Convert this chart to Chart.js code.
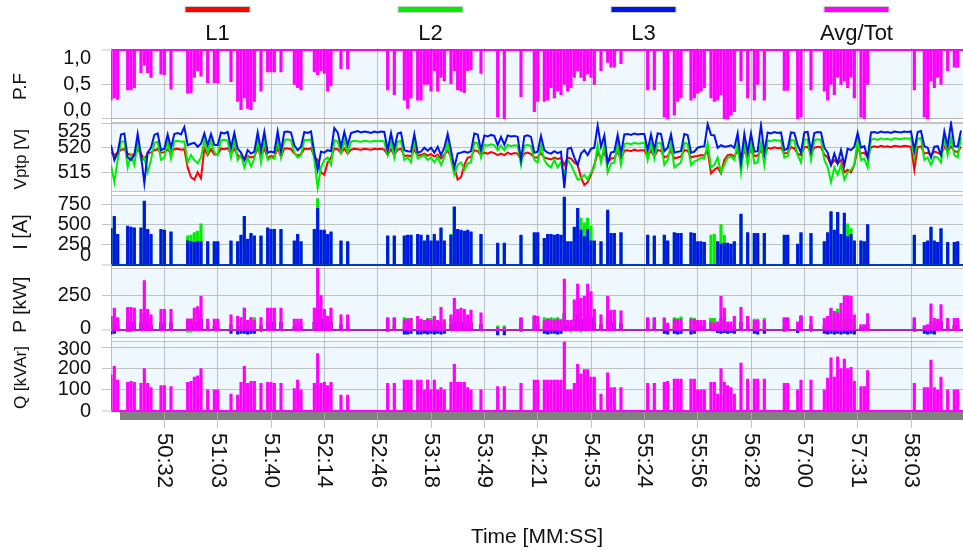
<!DOCTYPE html>
<html><head><meta charset="utf-8">
<script src="https://cdn.jsdelivr.net/npm/chart.js@4"></script>
<style>html,body{margin:0;padding:0;background:#fff;}canvas{display:block;}</style>
</head><body>
<canvas id="c" width="963" height="550"></canvas>
<script>
// ---------- tick labels / names ----------
const X_TICK_POS = [16,32,48,64,80,96,112,128,144,160,176,192,208,224,240];
const X_TICK_LABELS = ['50:32','51:03','51:40','52:14','52:46','53:18','53:49','54:21','54:53','55:24','55:56','56:28','57:00','57:31','58:03'];
const SERIES_NAMES = ['L1','L2','L3','Avg/Tot'];
const PF_TICKS = [0,0.5,1.0];   const PF_TICK_LABELS = ['0,0','0,5','1,0'];
const V_TICKS = [515,520,525];  const V_TICK_LABELS = ['515','520','525'];
const I_TICKS = [0,250,500,750]; const I_TICK_LABELS = ['0','250','500','750'];
const P_TICKS = [0,250];        const P_TICK_LABELS = ['0','250'];
const Q_TICKS = [0,100,200,300]; const Q_TICK_LABELS = ['0','100','200','300'];

// ---------- series values (one value per sample) ----------
const PF_AVG = [
.27,.3,.28,1,1,.42,.42,.45,1,.67,.78,.67,.6,1,1,.65,
.64,1,.43,1,1,1,1,.37,.38,.6,.7,.62,1,.52,1,.52,
.52,1,1,1,.54,1,.25,.13,.3,.15,.13,.25,1,.4,1,.68,
.68,.68,1,.68,1,1,1,.5,.45,.42,1,1,1,.68,.64,.7,
.66,.4,.48,1,1,.73,1,.73,1,1,1,1,1,1,1,1,
1,1,1,.42,1,.35,1,1,.27,.15,.3,1,.27,.27,.5,.5,
.4,.7,.4,.6,.55,1,.51,.7,.42,.4,.38,.7,.71,1,1,.66,
1,1,1,1,.02,1,0,1,1,1,1,.32,1,1,1,.1,
.25,1,.25,.27,.45,.3,.4,.35,.5,.4,.45,.6,.7,.6,.55,.65,
.6,.5,1,.7,1,.82,.75,.75,1,.8,1,1,1,1,1,1,
1,.42,1,.42,1,1,.02,0,1,.05,.25,.3,1,1,.27,.3,
.37,.4,.45,1,.3,.25,.27,.35,0,0,.05,.1,1,.55,1,.3,
1,.27,.5,1,.27,1,1,1,1,1,.41,.41,1,1,0,.02,
1,1,.42,1,1,1,.4,.27,.5,.35,.6,.5,.55,.45,.6,.3,
1,.02,0,.5,1,1,1,1,1,1,1,1,1,1,1,1,
1,.42,1,1,.02,0,.55,.45,.6,.5,1,.7,1,.75,.75,1];

const V_L1 = [
519.0,518.5,519.0,519.6,519.7,518.8,518.5,518.7,519.6,518.8,517.5,518.9,519.0,519.5,519.7,519.0,
519.1,519.6,519.0,519.7,519.8,519.6,519.7,516.0,514.0,513.5,515.0,513.8,519.8,518.5,519.7,518.6,
518.6,519.8,519.7,519.9,518.8,519.8,518.5,518.0,517.5,518.3,518.0,518.2,519.9,518.2,519.8,518.0,
518.3,518.1,519.9,518.2,519.8,519.9,519.7,518.8,518.4,518.7,519.8,519.7,519.9,518.2,517.5,515.0,
514.5,517.0,518.0,519.8,519.7,518.9,519.8,518.8,519.6,519.8,519.7,519.6,519.8,519.7,519.6,519.8,
519.7,519.8,519.6,518.6,519.7,518.5,519.6,519.8,518.3,518.4,518.2,519.6,518.4,518.5,518.8,518.4,
518.7,518.2,518.6,517.8,518.6,519.4,518.2,516.0,513.5,514.0,516.5,518.0,518.1,519.5,519.3,518.5,
519.0,518.8,519.1,518.9,518.5,518.8,518.5,519.0,518.7,518.9,518.8,517.5,518.8,519.0,518.7,518.0,
518.0,518.9,518.0,517.8,517.6,518.0,517.7,517.9,516.5,518.0,517.8,517.0,516.5,514.0,512.4,513.0,
514.5,516.5,519.0,517.8,519.1,517.0,517.8,517.9,519.2,517.6,519.4,519.5,519.3,519.6,519.4,519.5,
519.5,518.2,519.4,518.2,519.5,519.4,518.0,518.3,519.4,517.8,518.0,518.2,519.5,519.4,518.0,518.2,
518.3,518.5,518.4,519.4,514.8,515.5,516.0,514.8,517.5,518.5,518.6,518.2,519.5,517.0,519.5,518.2,
519.6,518.3,518.4,519.5,518.2,520.0,519.8,520.1,519.9,520.0,518.8,519.0,520.1,519.9,518.8,518.5,
520.1,520.2,518.8,520.0,520.2,520.1,518.6,518.0,516.5,517.5,516.8,517.5,515.0,515.5,515.0,516.5,
520.0,518.8,519.0,518.0,520.1,520.3,520.1,520.4,520.2,520.3,520.1,520.4,520.3,520.2,520.4,520.3,
520.2,515.5,520.1,520.3,518.8,519.0,518.5,519.2,519.0,518.6,520.2,519.2,520.3,519.3,519.1,520.2];

const V_L2 = [
516.5,513.0,517.5,521.2,521.3,516.0,518.5,516.5,521.2,517.5,518.0,515.0,517.5,521.0,521.2,517.5,
518.0,521.2,517.8,521.3,521.4,521.2,521.3,517.0,518.5,517.5,516.8,518.0,521.5,518.8,521.4,519.0,
518.5,521.5,521.6,521.4,518.0,521.5,517.5,518.5,516.0,518.0,516.2,517.8,521.6,517.0,521.5,517.5,
518.0,517.8,521.6,518.0,521.5,521.7,521.5,519.0,518.0,518.5,521.6,521.5,521.7,517.5,511.8,516.0,
517.5,518.0,516.5,521.5,521.3,519.0,521.4,519.0,521.2,521.4,521.3,521.2,521.4,521.3,521.2,521.4,
521.3,521.4,521.2,518.5,521.3,518.0,521.2,521.4,517.5,518.0,517.0,521.2,517.8,518.2,518.5,517.5,
518.0,517.0,518.2,516.5,518.0,521.0,517.5,514.5,516.5,517.0,515.5,516.8,517.0,521.1,520.9,518.0,
520.6,520.4,520.7,520.5,519.5,520.4,519.5,520.6,520.3,520.5,520.4,516.5,520.4,520.6,520.3,517.5,
517.0,520.5,517.5,516.5,516.0,517.5,516.0,517.0,514.5,517.5,516.5,515.0,513.5,513.8,514.5,513.5,
515.0,516.0,520.5,517.0,520.6,515.0,516.8,517.0,520.7,516.5,520.8,520.9,520.7,521.0,520.8,520.9,
521.0,517.5,520.8,517.8,521.0,520.9,516.5,517.5,520.8,516.0,516.5,517.0,521.0,520.8,516.5,517.2,
517.5,518.0,517.8,520.9,516.0,516.5,518.0,515.0,516.5,518.0,518.2,517.5,521.0,515.0,521.0,516.5,
521.1,516.8,517.0,521.0,516.5,521.5,521.3,521.6,521.4,521.5,518.0,518.3,521.6,521.4,518.5,517.0,
521.6,521.7,517.5,521.5,521.7,521.6,517.5,516.0,513.0,516.0,514.5,516.5,513.5,515.0,515.5,516.5,
521.5,517.5,517.8,516.0,521.6,521.8,521.6,521.9,521.7,521.8,521.6,521.9,521.8,521.7,521.9,521.8,
521.9,518.0,521.8,522.0,517.5,518.0,516.5,518.2,518.0,517.0,521.9,518.5,522.0,518.5,518.0,522.1];

const V_L3 = [
520.5,517.5,519.0,522.7,522.9,518.0,517.5,518.5,522.8,518.5,512.8,519.0,520.0,522.6,522.9,519.5,
519.8,522.7,520.0,522.8,523.0,522.7,524.2,520.5,520.8,521.0,520.2,520.8,522.9,520.5,522.8,520.6,
520.5,523.1,522.9,523.2,520.0,523.0,519.8,519.0,517.5,519.5,518.8,519.2,523.1,519.5,523.2,519.0,
519.2,519.0,523.3,519.3,523.2,523.3,523.1,520.5,519.5,520.2,523.2,523.0,523.3,519.0,515.5,519.2,
519.0,519.5,519.3,524.0,523.1,520.2,523.2,520.5,523.0,523.2,523.4,523.1,523.3,523.2,523.0,523.3,
523.1,523.3,523.2,519.5,523.0,519.8,522.9,523.1,519.5,519.3,519.2,522.8,519.0,519.2,520.0,519.4,
520.0,519.0,520.2,518.5,520.0,522.8,519.5,516.0,518.8,519.0,519.2,519.0,519.3,522.9,522.7,519.5,
522.5,522.3,522.6,522.4,520.5,522.2,520.6,522.5,522.3,522.4,522.2,517.5,522.3,522.5,522.2,519.0,
519.2,522.4,519.5,519.0,518.8,519.3,518.9,519.2,511.8,519.8,520.0,518.0,516.5,518.8,519.5,518.5,
519.8,520.0,524.5,520.2,522.5,516.8,519.0,519.2,522.6,518.8,522.7,522.8,522.6,522.9,522.7,522.8,
522.8,519.5,522.7,519.6,522.9,522.8,519.3,520.0,522.7,519.0,519.2,519.3,522.8,522.6,519.0,519.2,
520.0,520.2,520.3,524.8,522.6,522.5,520.0,520.5,520.2,520.3,520.5,520.0,522.9,517.0,522.8,519.0,
522.9,519.2,519.3,524.6,519.0,523.1,522.9,523.2,523.0,523.1,519.5,519.8,523.1,523.0,520.5,519.0,
523.1,523.2,519.3,523.0,523.2,523.1,520.0,519.0,516.5,518.8,516.8,519.5,516.5,519.8,519.5,520.2,
523.0,520.0,520.3,518.0,523.1,523.2,523.0,523.3,523.1,523.2,523.0,523.3,523.2,523.1,523.3,523.2,
523.3,519.5,523.2,523.4,520.3,520.0,518.0,520.2,520.3,518.5,523.3,520.3,525.0,520.3,520.2,523.5];

const I_L2 = [
450,590,380,0,0,470,460,450,0,450,780,430,370,0,0,430,
420,0,400,0,0,0,0,360,370,400,420,510,0,280,0,280,
280,0,0,0,290,0,280,360,590,310,380,350,0,350,0,450,
430,430,0,430,0,0,0,290,370,280,0,0,0,430,820,420,
370,370,400,0,0,290,0,280,0,0,0,0,0,0,0,0,
0,0,0,350,0,350,0,0,350,360,360,0,370,360,290,360,
290,370,290,450,290,0,380,710,430,420,410,420,400,0,0,370,
0,0,0,0,260,0,260,0,0,0,0,360,0,0,0,390,
390,0,320,370,370,360,370,360,830,280,280,460,690,580,520,580,
480,290,0,280,0,670,380,380,0,390,0,0,0,0,0,0,
0,360,0,350,0,0,360,290,0,390,380,380,0,0,390,380,
280,280,270,0,370,380,280,500,370,260,250,280,0,620,0,390,
0,380,380,0,380,0,0,0,0,0,360,360,0,0,250,390,
0,0,380,0,0,0,280,390,650,420,640,370,510,510,450,290,
0,290,280,490,0,0,0,0,0,0,0,0,0,0,0,0,
0,360,0,0,270,290,460,290,270,440,0,270,0,270,280,0];

const I_L3 = [
450,600,380,0,0,480,470,460,0,460,790,440,380,0,0,440,
430,0,410,0,0,0,0,300,290,280,290,290,0,290,0,290,
290,0,0,0,300,0,290,370,600,320,390,360,0,360,0,460,
440,440,0,440,0,0,0,300,380,290,0,0,0,440,700,430,
430,380,410,0,0,300,0,290,0,0,0,0,0,0,0,0,
0,0,0,360,0,360,0,0,360,370,370,0,380,370,300,370,
300,380,300,460,300,0,370,720,440,430,420,430,410,0,0,380,
0,0,0,0,270,0,270,0,0,0,0,370,0,0,0,400,
400,0,330,380,380,370,380,370,840,290,290,470,700,430,350,440,
300,300,0,290,0,680,390,390,0,400,0,0,0,0,0,0,
0,370,0,360,0,0,370,300,0,400,390,390,0,0,400,390,
290,290,280,0,0,0,290,260,270,270,260,290,0,630,0,400,
0,390,390,0,390,0,0,0,0,0,370,370,0,0,260,400,
0,0,390,0,0,0,290,400,660,430,650,380,640,350,380,300,
0,300,290,500,0,0,0,0,0,0,0,0,0,0,0,0,
0,370,0,0,280,300,470,300,280,450,0,280,0,280,290,0];

const P_L1 = [
20,40,30,0,0,-10,-10,55,0,50,120,50,35,0,0,50,
50,0,50,0,0,0,0,80,80,50,55,80,0,25,0,25,
25,0,0,0,35,0,30,30,50,25,30,25,0,-10,0,55,
55,55,0,55,0,0,0,25,25,25,0,0,0,55,150,80,
80,30,55,0,0,35,0,35,0,0,0,0,0,0,0,0,
0,0,0,-10,0,25,0,0,25,25,25,0,30,25,25,25,
25,30,25,55,25,0,35,75,50,55,50,35,50,0,0,40,
0,0,0,0,10,0,10,0,0,0,0,-10,0,0,0,100,
35,0,25,25,25,25,25,25,120,25,25,75,110,75,80,110,
90,50,0,35,0,80,50,50,0,45,0,0,0,0,0,0,
0,25,0,25,0,0,25,15,0,25,25,25,0,0,25,-10,
25,25,25,0,85,15,20,80,90,20,20,30,0,55,0,35,
0,25,25,0,25,0,0,0,0,0,-10,25,0,0,20,35,
0,0,-10,0,0,0,30,35,55,45,40,65,85,85,80,35,
0,10,10,40,0,0,0,0,0,0,0,0,0,0,0,0,
0,-10,0,0,10,10,60,30,25,60,0,30,0,30,30,0];

const P_L2 = [
100,60,30,0,0,55,55,55,0,50,120,50,35,0,0,50,
50,0,50,0,0,0,0,-15,-15,55,55,80,0,25,0,25,
25,0,0,0,40,0,35,30,160,25,90,90,0,30,0,55,
55,55,0,55,0,0,0,25,25,25,0,0,0,55,150,80,
50,35,55,0,0,35,0,35,0,0,0,0,0,0,0,0,
0,0,0,30,0,30,0,0,90,85,85,0,35,70,25,85,
85,35,25,55,25,0,85,75,50,55,50,35,50,0,0,40,
0,0,0,0,30,0,30,0,0,0,0,30,0,0,0,35,
35,0,90,85,90,85,90,80,120,25,-15,75,110,-15,80,110,
90,50,0,35,0,80,50,50,0,45,0,0,0,0,0,0,
0,30,0,30,0,0,90,25,0,90,85,95,0,0,90,85,
25,25,25,0,85,85,20,80,55,30,30,25,0,55,0,35,
0,80,80,0,85,0,0,0,0,0,30,30,0,0,20,25,
0,0,35,0,0,0,30,35,155,45,155,60,85,85,80,35,
0,30,30,40,0,0,0,0,0,0,0,0,0,0,0,0,
0,30,0,0,30,30,60,60,25,60,0,30,0,30,30,0];

const P_L3 = [
-30,-25,30,0,0,55,55,50,0,50,120,50,35,0,0,50,
50,0,50,0,0,0,0,25,25,50,55,80,0,25,0,25,
25,0,0,0,-25,0,-30,-25,-25,-30,-25,-25,0,30,0,55,
55,55,0,55,0,0,0,25,25,25,0,0,0,55,150,80,
50,30,55,0,0,35,0,35,0,0,0,0,0,0,0,0,
0,0,0,88,0,88,0,0,-30,-30,-25,0,-30,-30,-25,-30,
-25,-30,-25,-30,-25,0,35,75,50,55,50,35,50,0,0,40,
0,0,0,0,-35,0,-35,0,0,0,0,88,0,0,0,103,
35,0,-25,-30,-25,-25,-30,-25,120,25,25,75,110,75,80,110,
90,50,0,35,0,80,50,50,0,45,0,0,0,0,0,0,
0,88,0,88,0,0,-25,-30,0,-25,-30,-25,0,0,-30,-25,
25,25,25,0,0,0,-20,-25,-20,-25,-20,-25,0,55,0,35,
0,-25,-30,0,-25,0,0,0,0,0,88,88,0,0,-20,103,
0,0,35,0,0,0,-25,-30,-25,-30,-25,-30,-25,-30,-25,-30,
0,15,15,40,0,0,0,0,0,0,0,0,0,0,0,0,
0,88,0,0,-25,-30,-25,-30,25,60,0,30,0,30,30,0];

const P_TOT = [
100,160,90,0,0,165,165,160,0,150,360,150,110,0,0,150,
150,0,150,0,0,0,0,80,80,160,170,245,0,80,0,80,
80,0,0,0,110,0,100,90,160,70,90,70,0,90,0,160,
160,160,0,160,0,0,0,80,80,80,0,0,0,160,450,250,
150,100,160,0,0,110,0,110,0,0,0,0,0,0,0,0,
0,0,0,85,0,85,0,0,75,80,85,0,100,80,70,80,
70,100,70,165,75,0,110,230,150,160,150,110,145,0,0,125,
0,0,0,0,20,0,20,0,0,0,0,85,0,0,0,100,
100,0,70,80,75,70,80,70,370,70,70,220,335,230,245,335,
280,150,0,110,0,245,145,145,0,140,0,0,0,0,0,0,
0,85,0,85,0,0,85,50,0,80,75,80,0,0,80,80,
70,70,70,0,60,50,60,245,160,60,60,100,0,165,0,100,
0,70,70,0,70,0,0,0,0,0,85,85,0,0,60,100,
0,0,100,0,0,0,85,100,160,135,125,195,250,250,245,110,
0,40,40,120,0,0,0,0,0,0,0,0,0,0,0,0,
0,85,0,0,30,40,190,85,80,185,0,85,0,85,85,0];

const Q_TOT = [
170,210,145,0,0,135,140,135,0,130,200,130,110,0,0,120,
120,0,115,0,0,0,0,135,140,160,165,200,0,100,0,100,
100,0,0,0,80,0,75,135,210,130,140,140,0,130,0,135,
135,130,0,130,0,0,0,105,145,100,0,0,0,130,270,130,
135,120,135,0,0,75,0,75,0,0,0,0,0,0,0,0,
0,0,0,130,0,130,0,0,145,145,145,0,145,145,100,145,
100,145,100,110,100,0,135,220,135,135,135,110,100,0,0,100,
0,0,0,0,115,0,115,0,0,0,0,130,0,0,0,145,
145,0,145,145,145,145,145,145,325,100,100,130,220,175,195,195,
160,160,0,80,0,180,110,110,0,110,0,0,0,0,0,0,
0,130,0,130,0,0,135,140,0,150,150,150,0,0,150,150,
100,100,100,0,135,135,80,200,135,120,110,80,0,225,0,150,
0,150,150,0,150,0,0,0,0,0,130,130,0,0,100,145,
0,0,145,0,0,0,100,155,250,160,255,200,245,200,205,140,
0,115,115,190,0,0,0,0,0,0,0,0,0,0,0,0,
0,130,0,0,110,110,240,110,100,160,0,100,0,100,100,0];

// ---------- presentation ----------
const FONT = "'Liberation Sans', Arial, Helvetica, sans-serif";
const COLORS = ['#ff0000', '#00ee00', '#0016e8', '#ff00ff'];
const GRID = 'rgba(175,175,175,0.75)';
const SAMPLE_INDEX = I_L3.map((_, i) => i);

const PANELS = [
  {id:'yPF', title:'P.F',      titleSize:19, min:-0.032, max:1.03,  ticks:PF_TICKS, labels:PF_TICK_LABELS, weight:5, baseValue:1, baseColor:COLORS[3]},
  {id:'yV',  title:'Vptp [V]', titleSize:17, min:510.67, max:525.47, ticks:V_TICKS, labels:V_TICK_LABELS, weight:4},
  {id:'yI',  title:'I [A]',    titleSize:20, min:-17,    max:882,   ticks:I_TICKS, labels:I_TICK_LABELS, weight:3, baseValue:0, baseColor:COLORS[2]},
  {id:'yP',  title:'P [kW]',   titleSize:19, min:-67,    max:463,   ticks:P_TICKS, labels:P_TICK_LABELS, weight:2, baseValue:0, baseColor:COLORS[3]},
  {id:'yQ',  title:'Q [kVAr]', titleSize:17, min:-4.7,   max:338,   ticks:Q_TICKS, labels:Q_TICK_LABELS, weight:1, baseValue:0, baseColor:COLORS[3], last:true}
];

function line(label, data, color, axis) {
  return {type: 'line', label, data, borderColor: color, backgroundColor: color, borderWidth: 2,
          pointRadius: 0, pointHoverRadius: 0, tension: 0, fill: false, yAxisID: axis, xAxisID: 'x'};
}
function spikes(label, data, color, axis, base) {
  const d = {type: 'bar', label, data, backgroundColor: color, borderWidth: 0,
             barThickness: 2.5, grouped: false, yAxisID: axis, xAxisID: 'x'};
  if (base !== undefined) d.base = base;
  return d;
}

const scales = {
  x: {
    type: 'linear', position: 'bottom', min: 0, max: 255.6, offset: false,
    afterFit: s => { s.height = 138; },
    afterBuildTicks: s => { s.ticks = X_TICK_POS.map(v => ({value: v})); },
    ticks: {display: false},
    grid: {color: GRID, lineWidth: 1, drawTicks: true, tickLength: 16, offset: false},
    border: {display: false}
  }
};
PANELS.forEach(p => {
  const isBase = c => p.baseValue !== undefined && c.tick && c.tick.value === p.baseValue;
  scales[p.id] = {
    type: 'linear', position: 'left', stack: 'panels', stackWeight: 1, weight: p.weight,
    min: p.min, max: p.max,
    afterFit: s => { s.width = 111; },
    afterBuildTicks: s => { s.ticks = p.ticks.map(v => ({value: v})); },
    ticks: {display: false},
    grid: {color: c => isBase(c) ? p.baseColor : GRID, lineWidth: c => isBase(c) ? 2 : 1,
           tickColor: GRID, tickWidth: 1, drawTicks: true, tickLength: 9},
    border: {display: true, color: '#bdbdbd', width: 1}
  };
});

const decor = {
  id: 'decor',
  beforeDraw(chart) {
    const {ctx, chartArea: ca} = chart;
    ctx.save();
    ctx.fillStyle = '#ffffff';
    ctx.fillRect(0, 0, chart.width, chart.height);
    PANELS.forEach(p => {
      const s = chart.scales[p.id];
      const t = s.top + 1.5, b = s.bottom - 1.5;
      ctx.fillStyle = '#f0f8ff';
      ctx.fillRect(ca.left, t, ca.right - ca.left, b - t);
      ctx.strokeStyle = '#c4c4c4';
      ctx.lineWidth = 1;
      ctx.beginPath();
      ctx.moveTo(ca.left, Math.round(t) + 0.5); ctx.lineTo(ca.right, Math.round(t) + 0.5);
      ctx.moveTo(ca.left, Math.round(b) - 0.5); ctx.lineTo(ca.right, Math.round(b) - 0.5);
      ctx.stroke();
    });
    ctx.fillStyle = '#808080';
    ctx.fillRect(ca.left + 9, ca.bottom, ca.right - ca.left - 9, 8);
    ctx.restore();
  },
  afterDraw(chart) {
    const {ctx, chartArea: ca} = chart;
    ctx.save();
    ctx.fillStyle = '#111';
    PANELS.forEach(p => {
      const s = chart.scales[p.id];
      ctx.font = '20px ' + FONT;
      ctx.textAlign = 'right';
      ctx.textBaseline = 'middle';
      p.ticks.forEach((v, i) => {
        let y = s.getPixelForValue(v);
        const lo = s.top + 10.5, hi = s.bottom - 10.5;
        if (y < lo) y = lo;
        if (y > hi && !p.last) y = hi;
        ctx.fillText(p.labels[i], 91, y);
      });
      ctx.save();
      ctx.translate(21, (s.top + s.bottom) / 2 + 2);
      ctx.rotate(-Math.PI / 2);
      ctx.textAlign = 'center';
      ctx.font = p.titleSize + 'px ' + FONT;
      ctx.fillText(p.title, 0, 0);
      ctx.restore();
    });
    const q = (ca.right - ca.left) / 4;
    SERIES_NAMES.forEach((name, i) => {
      const cx = ca.left + q * (i + 0.5);
      ctx.fillStyle = COLORS[i];
      ctx.fillRect(cx - 32, 7, 64, 5);
      ctx.strokeStyle = 'rgba(0,0,0,0.2)';
      ctx.lineWidth = 1;
      ctx.strokeRect(cx - 32.5, 6.5, 65, 6);
      ctx.fillStyle = '#111';
      ctx.font = '22px ' + FONT;
      ctx.textAlign = 'center';
      ctx.textBaseline = 'middle';
      ctx.fillText(name, cx, 34);
    });
    const xs = chart.scales.x;
    ctx.font = '22px ' + FONT;
    ctx.fillStyle = '#111';
    X_TICK_POS.forEach((v, i) => {
      const x = xs.getPixelForValue(v);
      ctx.save();
      ctx.translate(x, ca.bottom + 21);
      ctx.rotate(Math.PI / 2);
      ctx.textAlign = 'left';
      ctx.textBaseline = 'middle';
      ctx.fillText(X_TICK_LABELS[i], 0, 0);
      ctx.restore();
    });
    ctx.font = '21px ' + FONT;
    ctx.textAlign = 'center';
    ctx.textBaseline = 'middle';
    ctx.fillText('Time [MM:SS]', (ca.left + ca.right) / 2, 537);
    ctx.restore();
  }
};

new Chart(document.getElementById('c'), {
  type: 'line',
  data: {
    labels: SAMPLE_INDEX,
    datasets: [
      spikes('P.F Avg/Tot', PF_AVG, COLORS[3], 'yPF', 1),
      line('Vptp L3', V_L3, COLORS[2], 'yV'),
      line('Vptp L2', V_L2, COLORS[1], 'yV'),
      line('Vptp L1', V_L1, COLORS[0], 'yV'),
      spikes('I L3', I_L3, COLORS[2], 'yI'),
      spikes('I L2', I_L2, COLORS[1], 'yI'),
      spikes('P Avg/Tot', P_TOT, COLORS[3], 'yP'),
      spikes('P L3', P_L3, COLORS[2], 'yP'),
      spikes('P L2', P_L2, COLORS[1], 'yP'),
      spikes('P L1', P_L1, COLORS[0], 'yP'),
      spikes('Q Avg/Tot', Q_TOT, COLORS[3], 'yQ')
    ]
  },
  options: {
    responsive: false,
    animation: false,
    devicePixelRatio: 1,
    events: [],
    layout: {padding: {top: 48, left: 0, right: 0, bottom: 0}},
    plugins: {legend: {display: false}, tooltip: {enabled: false}, title: {display: false}},
    scales
  },
  plugins: [decor]
});
</script>
</body></html>
